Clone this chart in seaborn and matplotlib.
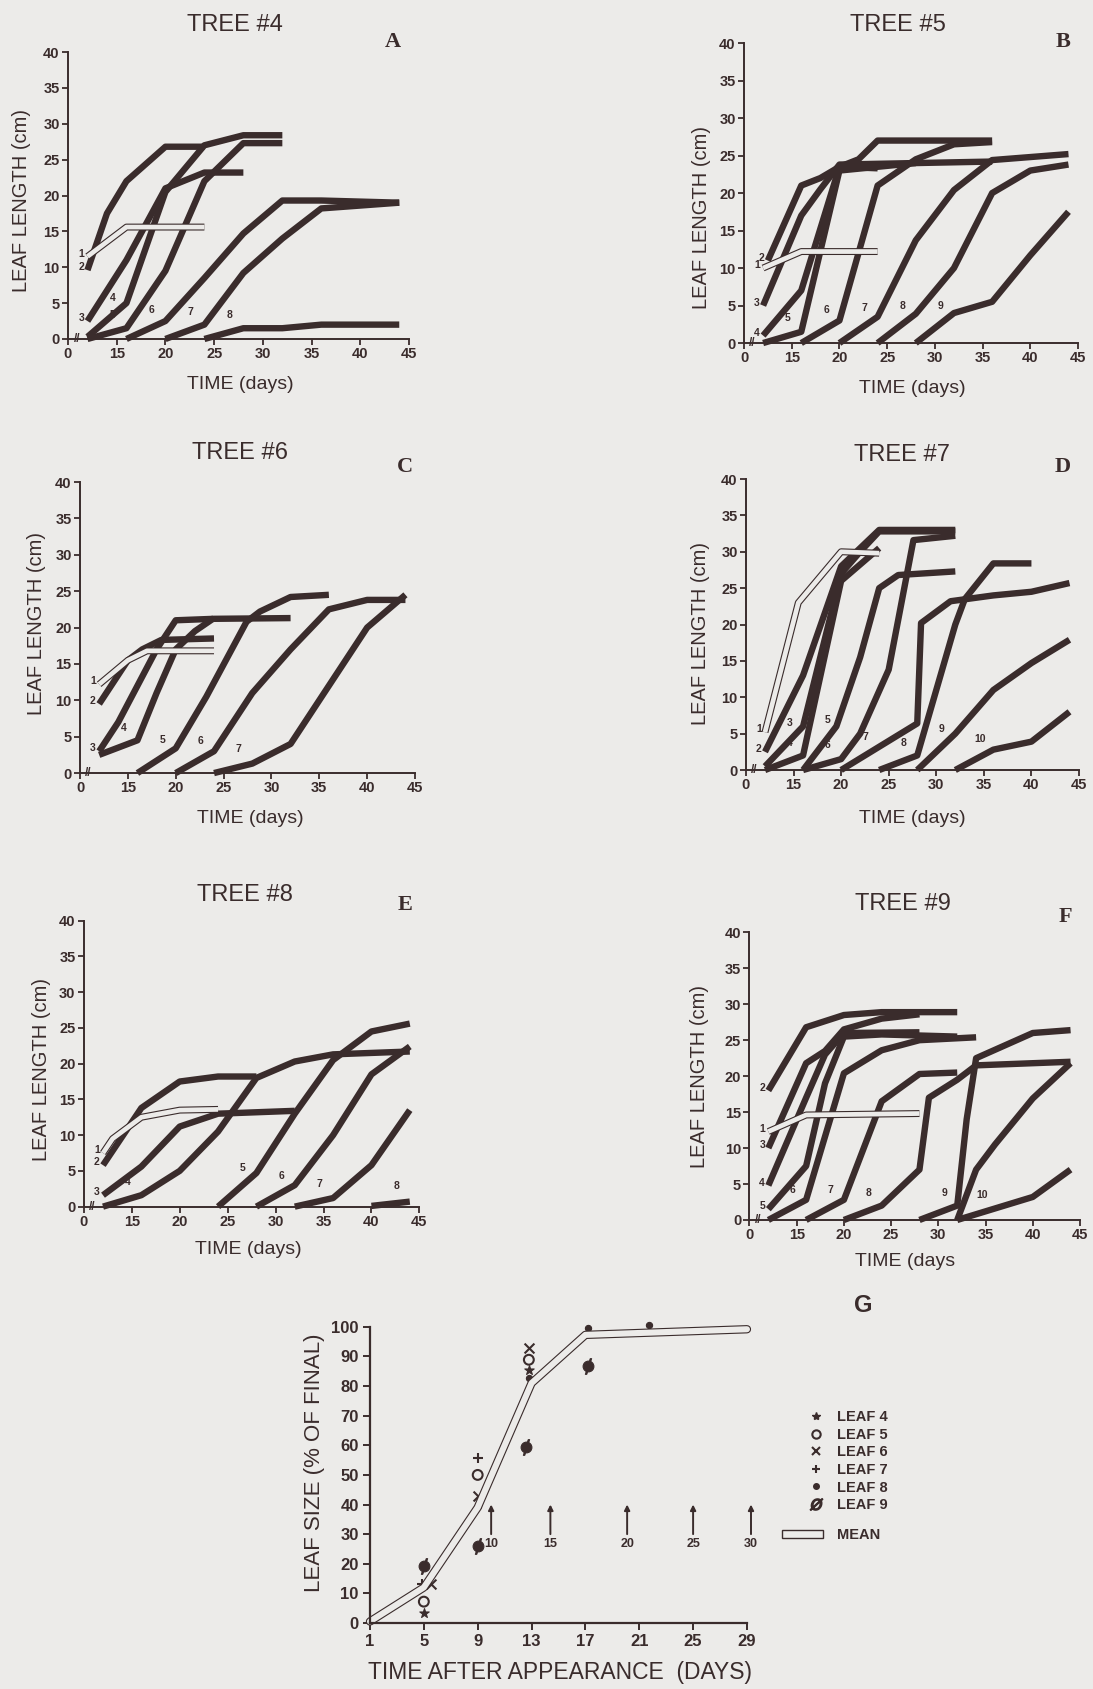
import numpy as np
import pandas as pd
import seaborn as sns
import matplotlib.pyplot as plt
from matplotlib.lines import Line2D
from matplotlib.patches import Patch

sns.set_theme(style="white")
plt.rcParams['font.family'] = ['Liberation Sans', 'DejaVu Sans']

BG = '#ecebe9'
INK = '#3a2c2c'

# ---- leaf growth per tree (day, leaf length cm); leaf "1" is the outlined line
tree4_leaves = ['1', '2', '3', '4', '5', '6', '7', '8']
tree4_days = [[12, 16, 24], [12, 14, 16, 20, 24], [12, 16, 20, 24, 28],
              [12, 16, 20, 24, 28, 32], [12, 16, 20, 24, 28, 32],
              [16, 20, 24, 28, 32, 36, 44], [20, 24, 28, 32, 36, 44],
              [24, 28, 32, 36, 44]]
tree4_len = [[11.5, 15.6, 15.6], [9.6, 17.5, 22, 26.8, 26.8], [2.5, 11, 21, 23.2, 23.2],
             [0.3, 5, 20.5, 27, 28.4, 28.4], [0, 1.5, 9.5, 22, 27.3, 27.3],
             [0, 2.5, 8.5, 14.7, 19.3, 19.3, 19], [0, 2, 9.2, 14, 18.2, 19],
             [0, 1.5, 1.5, 2, 2]]

tree5_leaves = ['1', '2', '3', '4', '5', '6', '7', '8', '9']
tree5_days = [[12, 16, 24], [12.5, 16, 18, 20, 24], [12, 14, 16, 18, 20, 28, 36],
              [12, 16, 20, 22, 24, 36], [12, 16, 20, 24, 28],
              [16, 20, 24, 28, 32, 36], [20, 24, 28, 32, 36, 40, 44],
              [24, 28, 32, 36, 40, 44], [28, 32, 36, 40, 44]]
tree5_len = [[10, 12.2, 12.2], [11, 21, 22, 23.5, 23.3], [5, 11, 17, 20.5, 23.8, 24, 24.2],
             [1, 7, 23.5, 24.5, 27, 27], [0, 1.5, 23, 23.5, 24],
             [0, 3, 21, 24.5, 26.5, 26.8], [0, 3.5, 13.7, 20.4, 24.4, 24.8, 25.2],
             [0, 3.9, 10, 20, 23, 23.8], [0, 4, 5.5, 11.7, 17.5]]

tree6_leaves = ['1', '2', '3', '4', '5', '6', '7']
tree6_days = [[12, 15, 17, 24], [12, 15, 16.5, 18.5, 24], [12, 14, 16, 18, 20, 24, 32],
              [12, 16, 18, 20, 22, 24], [16, 20, 23.2, 27.4, 28.8, 32, 36],
              [20, 24, 28, 32, 36, 40, 44], [24, 28, 32, 36, 40, 44]]
tree6_len = [[12.2, 15.5, 16.8, 16.8], [9.5, 15.5, 17, 18.3, 18.5], [3, 7, 12, 17, 21, 21.2, 21.3],
             [2.5, 4.5, 11, 17, 19.5, 21.3], [0, 3.4, 10.5, 20.8, 22.2, 24.2, 24.5],
             [0, 3, 11, 17, 22.5, 23.8, 23.8], [0, 1.3, 4, 12, 20, 24.5]]

tree7_leaves = ['1', '2', '3', '4', '5', '6', '7', '8', '9', '10']
tree7_days = [[12, 15.5, 20, 24], [12, 16, 20, 24, 32], [12, 16, 20, 22, 24, 32],
              [12, 16, 20, 24], [16, 19.5, 22, 24, 26, 32],
              [16, 20, 22, 25, 27.6, 32], [20, 24, 28, 28.4, 31.5, 36, 40, 44],
              [24, 28, 32, 33, 36, 40], [28, 32, 36, 40, 44], [32, 36, 40, 44]]
tree7_len = [[5.2, 23, 30, 29.8], [2.5, 13, 28, 33, 33], [0.5, 6, 27, 30, 32.8, 32.8],
             [0, 2, 26, 30.5], [0, 6, 15.5, 25, 26.8, 27.3],
             [0, 1.5, 5, 13.8, 31.6, 32.2], [0, 3.2, 6.4, 20.2, 23.2, 24, 24.5, 25.7],
             [0, 2, 20, 23.5, 28.4, 28.4], [0, 5, 11, 14.7, 17.9], [0, 2.8, 3.9, 8]]

tree8_leaves = ['1', '2', '3', '4', '5', '6', '7', '8']
tree8_days = [[12, 13, 16, 20, 24], [12, 16, 20, 24, 28], [12, 16, 20, 24, 32],
              [12, 16, 20, 24, 28, 32, 36, 44], [24, 28, 32, 36, 40, 44],
              [28, 32, 36, 40, 44], [32, 36, 40, 44], [40, 44]]
tree8_len = [[7.5, 9.5, 12.5, 13.5, 13.6], [5.8, 13.8, 17.5, 18.2, 18.2], [1.6, 5.6, 11.2, 13, 13.4],
             [0, 1.6, 5, 10.5, 18, 20.3, 21.3, 21.7], [0, 4.7, 13, 20.5, 24.5, 25.6],
             [0, 3, 10, 18.5, 22.4], [0, 1.2, 5.8, 13.5], [0.1, 0.7]]

tree9_leaves = ['1', '2', '3', '4', '5', '6', '7', '8', '9', '', '10']
tree9_days = [[12, 16, 28], [12, 16, 20, 24, 32], [12, 16, 18, 20, 24, 28],
              [12, 16, 18, 20, 28], [12, 16, 18, 20, 24, 32],
              [12, 16, 20, 24, 28, 34], [16, 20, 24, 28, 32],
              [20, 24, 28, 29, 32, 34, 44], [28, 32, 33, 34, 40, 44],
              [32, 34, 36, 40, 44], [32, 36, 40, 44]]
tree9_len = [[12.3, 14.6, 14.8], [18, 26.8, 28.5, 28.9, 28.9], [10, 21.8, 23.5, 26.5, 28, 28.6],
             [4.8, 17, 23, 26, 26.1], [1.5, 7.5, 19, 25.5, 25.8, 25.5],
             [0, 2.8, 20.4, 23.6, 25, 25.4], [0, 2.8, 16.5, 20.3, 20.5],
             [0, 2, 7, 17, 19.5, 21.5, 22], [0, 2, 14, 22.5, 26, 26.4],
             [0, 7, 10.5, 16.9, 21.8], [0, 1.6, 3.2, 7]]

x_ticks = [10, 15, 20, 25, 30, 35, 40, 45]
x_ticklabels = ['0', '15', '20', '25', '30', '35', '40', '45']
y_ticks = [0, 5, 10, 15, 20, 25, 30, 35, 40]

# ---- panel G: % of final size vs time after appearance
g_leaf4_t, g_leaf4_p = [5, 12.8], [3.3, 85.5]
g_leaf5_t, g_leaf5_p = [5, 9, 12.8], [7.2, 50, 88.9]
g_leaf6_t, g_leaf6_p = [5.5, 9, 12.8], [13.3, 42.8, 92.9]
g_leaf7_t, g_leaf7_p = [4.9, 9], [13.1, 55.6]
g_leaf8_t, g_leaf8_p = [9, 12.8, 17.2, 21.7], [39.4, 82.7, 99.7, 100.5]
g_leaf9_t, g_leaf9_p = [5, 9, 12.6, 17.2], [19.4, 26.1, 59.5, 86.9]
g_mean_t = [1, 5, 9, 13, 17, 29]
g_mean_p = [0.5, 12, 39, 81, 97.3, 99.2]
g_arrow_t = [10, 14.4, 20.1, 25, 29.3]
g_arrow_lbl = ['10', '15', '20', '25', '30']
g_x_ticks = [1, 5, 9, 13, 17, 21, 25, 29]
g_y_ticks = [0, 10, 20, 30, 40, 50, 60, 70, 80, 90, 100]


def tree_frame(leaves, days, lengths):
    rows = []
    for k, (leaf, xs, ys) in enumerate(zip(leaves, days, lengths)):
        for x, y in zip(xs, ys):
            rows.append((k, leaf, x, y))
    return pd.DataFrame(rows, columns=['line', 'leaf', 'day', 'length'])


def draw_tree(ax, leaves, days, lengths):
    df = tree_frame(leaves, days, lengths)
    thick = df[df.leaf != '1']
    sns.lineplot(data=thick, x='day', y='length', units='line', estimator=None,
                 sort=False, color=INK, lw=4.6, solid_capstyle='butt',
                 solid_joinstyle='round', clip_on=False, legend=False, ax=ax)
    one = df[df.leaf == '1']
    sns.lineplot(data=one, x='day', y='length', estimator=None, sort=False,
                 color=INK, lw=5.0, solid_capstyle='butt', clip_on=False, ax=ax)
    sns.lineplot(data=one, x='day', y='length', estimator=None, sort=False,
                 color=BG, lw=3.4, solid_capstyle='butt', clip_on=False, ax=ax)
    # leaf number tags
    placed = []
    for leaf, xs, ys in zip(leaves, days, lengths):
        if not leaf:
            continue
        crowded = any(abs(py - ys[0] - 0.4) < 0.8 and abs(px - xs[0]) < 1.5 for px, py in placed)
        if ys[0] > 0.6 and not crowded:
            pos = (xs[0] - 0.35, ys[0] + 0.4)
            ha = 'right'
        else:
            lx = xs[0] + 2.6
            pos = (lx, np.interp(lx, xs, ys) + 2.4)
            ha = 'center'
        placed.append(pos)
        ax.text(pos[0], pos[1], leaf, ha=ha, va='center', fontsize=7.5,
                fontweight='bold', color=INK)
    ax.set_xlim(10, 45)
    ax.set_ylim(0, 40)
    ax.set_xticks(x_ticks)
    ax.set_xticklabels(x_ticklabels, fontweight='bold')
    ax.set_yticks(y_ticks)
    ax.set_yticklabels([str(v) for v in y_ticks], fontweight='bold')
    ax.text(10.9, 0, '//', ha='center', va='center', fontsize=8.5,
            fontweight='bold', color=INK)


fig = plt.figure(figsize=(10.93, 16.89), dpi=100, facecolor=BG)

panels = [
    (tree4_leaves, tree4_days, tree4_len, 'TREE #4', 'A', 'TIME (days)',
     (0.0622, 0.7993, 0.3120, 0.1699), (0.49, 1.094), (0.953, 1.035), (-0.135, 0.484), (0.504, -0.160)),
    (tree5_leaves, tree5_days, tree5_len, 'TREE #5', 'B', 'TIME (days)',
     (0.6807, 0.7969, 0.3056, 0.1776), (0.461, 1.06), (0.955, 1.003), (-0.126, 0.42), (0.503, -0.150)),
    (tree6_leaves, tree6_days, tree6_len, 'TREE #6', 'C', 'TIME (days)',
     (0.0732, 0.5423, 0.3065, 0.1723), (0.478, 1.10), (0.97, 1.05), (-0.131, 0.515), (0.507, -0.155)),
    (tree7_leaves, tree7_days, tree7_len, 'TREE #7', 'D', 'TIME (days)',
     (0.6825, 0.5441, 0.3047, 0.1723), (0.47, 1.082), (0.952, 1.04), (-0.138, 0.47), (0.50, -0.165)),
    (tree8_leaves, tree8_days, tree8_len, 'TREE #8', 'E', 'TIME (days)',
     (0.0767, 0.2856, 0.3070, 0.1693), (0.48, 1.09), (0.958, 1.056), (-0.125, 0.48), (0.49, -0.150)),
    (tree9_leaves, tree9_days, tree9_len, 'TREE #9', 'F', 'TIME (days',
     (0.6857, 0.2777, 0.3024, 0.1703), (0.464, 1.10), (0.955, 1.052), (-0.15, 0.50), (0.47, -0.146)),
]

for leaves, days, lengths, title, letter, xlab, rect, tpos, lpos, ypos, xpos in panels:
    ax = fig.add_axes(rect)
    ax.set_facecolor('none')
    draw_tree(ax, leaves, days, lengths)
    sns.despine(ax=ax)
    for s in ['left', 'bottom']:
        ax.spines[s].set_color(INK)
        ax.spines[s].set_linewidth(1.4)
    ax.tick_params(direction='out', length=4, width=1.3, colors=INK,
                   labelsize=10.5, pad=2, left=True, bottom=True)
    ax.set_title(title, x=tpos[0], y=tpos[1], pad=0, va='center',
                 fontsize=17, color=INK)
    ax.text(lpos[0], lpos[1], letter, transform=ax.transAxes, ha='center',
            va='center', fontsize=16, fontweight='bold', color=INK,
            family='Liberation Serif')
    ax.set_ylabel('LEAF LENGTH (cm)', fontsize=14.5, color=INK, va='center')
    ax.yaxis.set_label_coords(*ypos)
    ax.set_xlabel(xlab, fontsize=14, color=INK, va='center')
    ax.xaxis.set_label_coords(*xpos)

# ---- panel G
axg = fig.add_axes((0.3385, 0.0391, 0.3449, 0.1753))
axg.set_facecolor('none')
mean_df = pd.DataFrame({'t': g_mean_t, 'p': g_mean_p})
sns.lineplot(data=mean_df, x='t', y='p', color=INK, lw=6.0, sort=False,
             solid_capstyle='round', clip_on=False, ax=axg)
sns.lineplot(data=mean_df, x='t', y='p', color=BG, lw=4.4, sort=False,
             solid_capstyle='round', clip_on=False, ax=axg)

leaf_points = [
    ('LEAF 4', g_leaf4_t, g_leaf4_p, '*', 50, 'fill'),
    ('LEAF 5', g_leaf5_t, g_leaf5_p, 'o', 50, 'open'),
    ('LEAF 6', g_leaf6_t, g_leaf6_p, 'x', 50, 'line'),
    ('LEAF 7', g_leaf7_t, g_leaf7_p, '+', 45, 'line'),
    ('LEAF 8', g_leaf8_t, g_leaf8_p, 'o', 20, 'fill'),
    ('LEAF 9', g_leaf9_t, g_leaf9_p, 'o', 60, 'slash'),
]
handles = []
for name, ts, ps, mk, size, kind in leaf_points:
    d = pd.DataFrame({'t': ts, 'p': ps})
    if kind == 'open':
        sns.scatterplot(data=d, x='t', y='p', marker=mk, s=size, facecolor='none',
                        edgecolor=INK, linewidth=1.5, clip_on=False, ax=axg)
        handles.append(Line2D([], [], ls='none', marker=mk, ms=6, mfc='none',
                              mec=INK, mew=1.5, label=name))
    elif kind == 'line':
        sns.scatterplot(data=d, x='t', y='p', marker=mk, s=size, color=INK,
                        linewidth=1.5, clip_on=False, ax=axg)
        handles.append(Line2D([], [], ls='none', marker=mk, ms=6, color=INK,
                              mew=1.5, label=name))
    elif kind == 'slash':
        sns.scatterplot(data=d, x='t', y='p', marker=mk, s=size, color=INK,
                        edgecolor=INK, linewidth=0.8, clip_on=False, ax=axg)
        sns.scatterplot(data=d, x='t', y='p', marker='$/$', s=130, color=INK,
                        edgecolor=INK, linewidth=0.6, clip_on=False, ax=axg)
        handles.append(Line2D([], [], ls='none', marker='$Ø$', ms=9, color=INK,
                              label=name))
    else:
        sns.scatterplot(data=d, x='t', y='p', marker=mk, s=size, color=INK,
                        edgecolor=INK, linewidth=0.8, clip_on=False, ax=axg)
        handles.append(Line2D([], [], ls='none', marker=mk,
                              ms=6 if mk == '*' else 4, color=INK, label=name))

for t, lbl in zip(g_arrow_t, g_arrow_lbl):
    axg.annotate('', xy=(t, 40), xytext=(t, 30), annotation_clip=False,
                 arrowprops=dict(arrowstyle='-|>', lw=1.4, color=INK,
                                 mutation_scale=8, shrinkA=0, shrinkB=0))
    axg.text(t, 26.8, lbl, ha='center', va='center', fontsize=9,
             fontweight='bold', color=INK)

axg.set_xlim(1, 29)
axg.set_ylim(0, 100)
axg.set_xticks(g_x_ticks)
axg.set_xticklabels([str(v) for v in g_x_ticks], fontweight='bold')
axg.set_yticks(g_y_ticks)
axg.set_yticklabels([str(v) for v in g_y_ticks], fontweight='bold')
sns.despine(ax=axg)
for s in ['left', 'bottom']:
    axg.spines[s].set_color(INK)
    axg.spines[s].set_linewidth(1.6)
axg.tick_params(direction='out', length=5, width=1.4, colors=INK,
                labelsize=12, pad=3, left=True, bottom=True)
axg.set_ylabel('LEAF SIZE (% OF FINAL)', fontsize=16, color=INK, va='center')
axg.yaxis.set_label_coords(-0.146, 0.54)
axg.set_xlabel('TIME AFTER APPEARANCE  (DAYS)', fontsize=16.5, color=INK, va='center')
axg.xaxis.set_label_coords(0.504, -0.169)

fig.text(0.7896, 0.2268, 'G', ha='center', va='center', fontsize=17,
         fontweight='bold', color=INK, family='Liberation Sans')

leg1 = fig.legend(handles=handles, loc='upper left', bbox_to_anchor=(0.7399, 0.1652),
                  frameon=False, fontsize=10.5, handlelength=1.0, handletextpad=0.94,
                  labelspacing=0.25, borderpad=0, borderaxespad=0)
for txt in leg1.get_texts():
    txt.set_fontweight('bold')
    txt.set_color(INK)
mean_handle = Patch(facecolor=BG, edgecolor=INK, lw=1.0, label='MEAN')
leg2 = fig.legend(handles=[mean_handle], loc='upper left', bbox_to_anchor=(0.7155, 0.0953),
                  frameon=False, fontsize=10.5, handlelength=2.8, handleheight=0.4,
                  handletextpad=0.96, borderpad=0, borderaxespad=0)
for txt in leg2.get_texts():
    txt.set_fontweight('bold')
    txt.set_color(INK)

fig.savefig('out.png', dpi=100, facecolor=BG)
